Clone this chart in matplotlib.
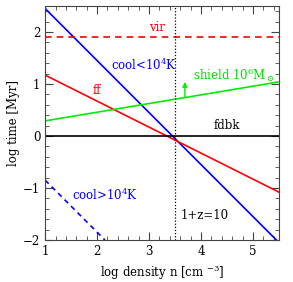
import numpy as np
import matplotlib
matplotlib.use("Agg")
import matplotlib.pyplot as plt
from matplotlib.ticker import MultipleLocator

plt.rcParams["font.family"] = ["DejaVu Serif"]
plt.rcParams["mathtext.fontset"] = "dejavuserif"

# log density range
n_lim = [1.0, 5.5]
t_lim = [-2.0, 2.5]

# line endpoints (log n, log t)
cool_lo_n = [1.0, 5.45]
cool_lo_t = [2.45, -2.0]
ff_n = [1.0, 5.5]
ff_t = [1.17, -1.08]
shield_n = [1.0, 5.5]
shield_t = [0.29, 1.04]
cool_hi_n = [1.0, 2.15]
cool_hi_t = [-0.85, -2.0]
vir_t = 1.9
fdbk_t = 0.0
z_n = 3.5
arrow_n = 3.69
arrow_t = [0.74, 1.04]

fig = plt.figure(figsize=(2.93, 2.82), dpi=100)
ax = fig.add_axes([0.154, 0.149, 0.798, 0.830])

ax.plot(cool_lo_n, cool_lo_t, color="blue", lw=1.2)
ax.plot(cool_hi_n, cool_hi_t, color="blue", lw=1.2, ls=(0, (3, 2.5)))
ax.plot(ff_n, ff_t, color="red", lw=1.2)
ax.plot(shield_n, shield_t, color="#00ee00", lw=1.2)
ax.axhline(vir_t, color="red", lw=1.2, ls=(0, (4, 3)))
ax.axhline(fdbk_t, color="black", lw=1.2)
ax.axvline(z_n, color="black", lw=0.9, ls=(0, (1, 1.5)))
ax.annotate("", xy=(arrow_n, arrow_t[1]), xytext=(arrow_n, arrow_t[0]),
            arrowprops=dict(arrowstyle="-|>", color="#00ee00", lw=1.0,
                            mutation_scale=7, shrinkA=0, shrinkB=0))

fs = 8.5
ax.text(3.15, 2.08, "vir", color="red", fontsize=fs, ha="center", va="center")
ax.text(2.27, 1.37, r"cool<10$^4$K", color="blue", fontsize=fs, va="center")
ax.text(2.0, 0.87, "ff", color="red", fontsize=fs, ha="center", va="center")
ax.text(3.85, 1.17, r"shield 10$^6$M$_\odot$", color="#00dd00", fontsize=fs, va="center")
ax.text(4.5, 0.2, "fdbk", color="black", fontsize=fs, ha="center", va="center")
ax.text(1.52, -1.13, r"cool>10$^4$K", color="blue", fontsize=fs, va="center")
ax.text(3.6, -1.52, "1+z=10", color="black", fontsize=fs, va="center")

ax.set_xlim(n_lim)
ax.set_ylim(t_lim)
ax.xaxis.set_major_locator(MultipleLocator(1))
ax.xaxis.set_minor_locator(MultipleLocator(0.2))
ax.yaxis.set_major_locator(MultipleLocator(1))
ax.yaxis.set_minor_locator(MultipleLocator(0.2))
ax.tick_params(which="both", direction="in", top=True, right=True,
               labelsize=8.5, color="#444444")
ax.tick_params(which="major", length=6)
ax.tick_params(which="minor", length=3)
for s in ax.spines.values():
    s.set_color("#444444")
ax.set_xlabel(r"log density n [cm $^{-3}$]", fontsize=8.5)
ax.set_ylabel("log time [Myr]", fontsize=8.5, labelpad=2)

fig.savefig("out.png", dpi=100)
